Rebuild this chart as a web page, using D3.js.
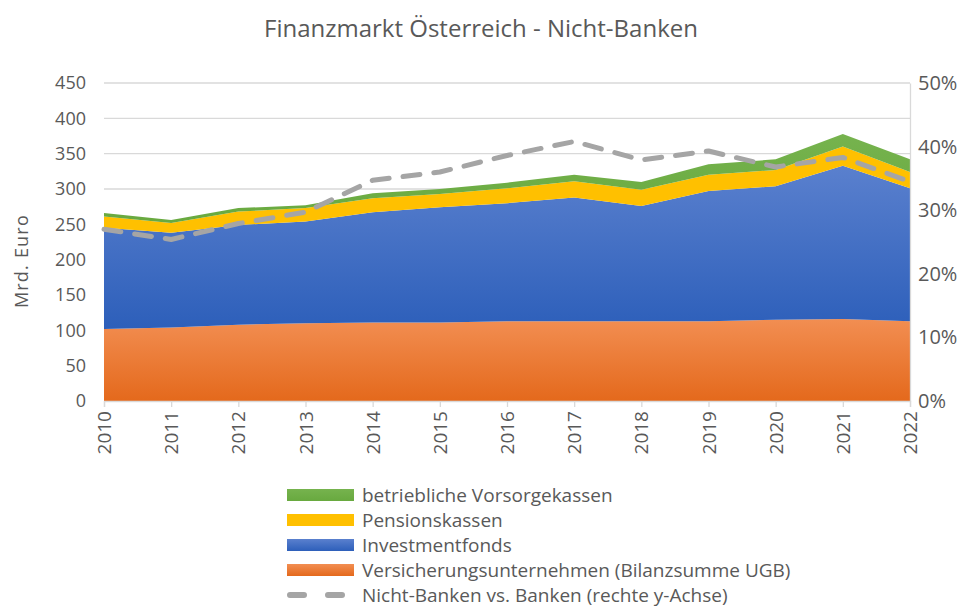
<!DOCTYPE html>
<html lang="de">
<head>
<meta charset="UTF-8">
<script src="https://d3js.org/d3.v7.min.js"></script>
<title>Finanzmarkt Österreich - Nicht-Banken</title>
<style>
  body { margin: 0; background: #fff; }
  text { font-family: "Open Sans", sans-serif; fill: #595959; }
</style>
</head>
<body>
<script>
// data (Mrd. Euro)
const years = [2010, 2011, 2012, 2013, 2014, 2015, 2016, 2017, 2018, 2019, 2020, 2021, 2022];
const versicherungen = [102, 104, 108, 110, 111, 111, 113, 113, 113, 113, 115, 116, 113];
const investmentfonds = [143, 134, 141, 144, 156, 163, 167, 175, 163, 184, 189, 217, 188];
const pensionskassen = [16, 14, 19, 19, 20, 19, 21, 23, 23, 23, 23, 27, 23];
const vorsorgekassen = [5, 4, 5, 4, 7, 7, 8, 9, 11, 15, 15, 18, 18];
const nichtBankenQuote = [27.0, 25.4, 27.9, 29.7, 34.7, 36.0, 38.6, 40.8, 37.9, 39.3, 36.8, 38.3, 34.5];
const leftTicks = [0, 50, 100, 150, 200, 250, 300, 350, 400, 450];
const rightTicks = [0, 10, 20, 30, 40, 50];

const seriesKeys = ["vers", "inv", "pens", "bvk"];
const seriesNames = {
  bvk: "betriebliche Vorsorgekassen",
  pens: "Pensionskassen",
  inv: "Investmentfonds",
  vers: "Versicherungsunternehmen (Bilanzsumme UGB)"
};

const W = 971, H = 607;
const m = { left: 104, right: 61, top: 83, bottom: 206 };

const table = years.map((y, i) => ({
  year: y,
  vers: versicherungen[i],
  inv: investmentfonds[i],
  pens: pensionskassen[i],
  bvk: vorsorgekassen[i],
  quote: nichtBankenQuote[i]
}));

const svg = d3.select("body").append("svg")
  .attr("width", W)
  .attr("height", H);

// gradient fills like the office chart
const colors = {
  vers: ["#F28E52", "#E4691C"],
  inv: ["#5A80CE", "#2D5FBA"],
  pens: ["#FFC000", "#FFC000"],
  bvk: ["#76B34E", "#68A93F"]
};
const defs = svg.append("defs");
Object.keys(colors).forEach(k => {
  const g = defs.append("linearGradient").attr("id", "g-" + k)
    .attr("x1", 0).attr("y1", 0).attr("x2", 0).attr("y2", 1);
  g.append("stop").attr("offset", "0%").attr("stop-color", colors[k][0]);
  g.append("stop").attr("offset", "100%").attr("stop-color", colors[k][1]);
});

const x = d3.scaleLinear()
  .domain(d3.extent(years))
  .range([m.left, W - m.right]);
const y = d3.scaleLinear()
  .domain([0, 450])
  .range([H - m.bottom, m.top]);
const y2 = d3.scaleLinear()
  .domain([0, 50])
  .range([H - m.bottom, m.top]);

// title
svg.append("text")
  .attr("x", 481).attr("y", 37)
  .attr("text-anchor", "middle")
  .style("font-size", "24px")
  .text("Finanzmarkt Österreich - Nicht-Banken");

// gridlines
svg.append("g")
  .selectAll("line")
  .data(leftTicks.slice(1))
  .join("line")
  .attr("x1", x.range()[0]).attr("x2", x.range()[1])
  .attr("y1", d => y(d)).attr("y2", d => y(d))
  .attr("stroke", "#D9D9D9")
  .attr("stroke-width", 1.3);

// stacked areas
const stacked = d3.stack().keys(seriesKeys)(table);
const area = d3.area()
  .x(d => x(d.data.year))
  .y0(d => y(d[0]))
  .y1(d => y(d[1]));

svg.append("g")
  .selectAll("path")
  .data(stacked)
  .join("path")
  .attr("d", area)
  .attr("fill", d => `url(#g-${d.key})`);

// left axis
const left = svg.append("g")
  .attr("transform", `translate(${m.left - 18},0)`)
  .call(d3.axisLeft(y).tickValues(leftTicks).tickSize(0).tickPadding(0));
left.select(".domain").remove();
left.selectAll("text").style("font-size", "18px").attr("fill", "#595959");

// right axis
const right = svg.append("g")
  .attr("transform", `translate(${W - m.right},0)`)
  .call(d3.axisRight(y2).tickValues(rightTicks).tickFormat(d => d + "%").tickSize(0).tickPadding(8));
right.select(".domain").attr("stroke", "#D9D9D9").attr("stroke-width", 1.3);
right.selectAll("text").style("font-size", "20px").attr("fill", "#595959");

// bottom axis
const bottom = svg.append("g")
  .attr("transform", `translate(0,${H - m.bottom})`)
  .call(d3.axisBottom(x).tickValues(years).tickFormat(d3.format("d")).tickSize(6).tickPadding(6));
bottom.select(".domain").attr("stroke", "#D9D9D9").attr("stroke-width", 1.3);
bottom.selectAll(".tick line").attr("stroke", "#D9D9D9").attr("stroke-width", 1.3);
bottom.selectAll("text")
  .style("font-size", "19px")
  .attr("fill", "#595959")
  .attr("text-anchor", "end")
  .attr("transform", "rotate(-90)")
  .attr("x", -10)
  .attr("y", 0)
  .attr("dy", "0.35em");

// axis title
svg.append("text")
  .attr("transform", `translate(22,${y(198)}) rotate(-90)`)
  .attr("text-anchor", "middle")
  .attr("dy", "0.35em")
  .style("font-size", "18px")
  .style("letter-spacing", "1.2px")
  .text("Mrd. Euro");

// dashed ratio line
const line = d3.line()
  .x(d => x(d.year))
  .y(d => y2(d.quote));
svg.append("path")
  .datum(table)
  .attr("d", line)
  .attr("fill", "none")
  .attr("stroke", "#A5A5A5")
  .attr("stroke-width", 5)
  .attr("stroke-linecap", "round")
  .attr("stroke-linejoin", "round")
  .attr("stroke-dasharray", "17 14");

// legend
const legendRows = ["bvk", "pens", "inv", "vers"];
const rowH = 25;
const lg = svg.append("g").attr("transform", "translate(287,495)");
legendRows.forEach((k, i) => {
  lg.append("rect")
    .attr("x", 0).attr("y", i * rowH - 6)
    .attr("width", 67).attr("height", 12)
    .attr("fill", `url(#g-${k})`);
  lg.append("text")
    .attr("x", 75).attr("y", i * rowH)
    .attr("dy", "0.35em")
    .style("font-size", "19px")
    .text(seriesNames[k]);
});
lg.append("line")
  .attr("x1", 3).attr("x2", 64)
  .attr("y1", 4 * rowH).attr("y2", 4 * rowH)
  .attr("stroke", "#A5A5A5")
  .attr("stroke-width", 6)
  .attr("stroke-linecap", "round")
  .attr("stroke-dasharray", "14 24");
lg.append("text")
  .attr("x", 75).attr("y", 4 * rowH)
  .attr("dy", "0.35em")
  .style("font-size", "19px")
  .text("Nicht-Banken vs. Banken (rechte y-Achse)");
</script>
</body>
</html>
